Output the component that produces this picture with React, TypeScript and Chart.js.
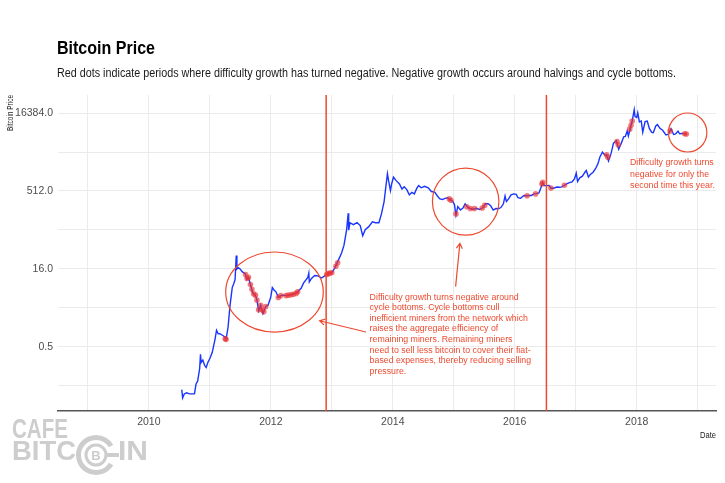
import React, { useEffect, useRef } from "react";
import { Chart, registerables } from "chart.js";
Chart.register(...registerables);

// ---------- data ----------
const priceDates = [
  "2010-07-17","2010-07-22","2010-08-01","2010-08-15","2010-09-01","2010-09-15","2010-10-01","2010-10-10","2010-10-20","2010-11-01","2010-11-06","2010-11-10","2010-11-20","2010-12-01","2010-12-10","2010-12-20",
  "2011-01-01","2011-01-15","2011-02-01","2011-02-10","2011-02-20","2011-03-01","2011-03-15","2011-04-01","2011-04-08","2011-04-20","2011-05-01","2011-05-15","2011-05-25","2011-06-01","2011-06-08","2011-06-12","2011-06-20","2011-07-01","2011-07-15","2011-08-01","2011-08-10","2011-08-20","2011-09-01","2011-09-15","2011-10-01","2011-10-10","2011-10-20","2011-11-01","2011-11-15","2011-11-20","2011-12-01","2011-12-15","2011-12-31",
  "2012-01-10","2012-01-20","2012-02-01","2012-02-15","2012-03-01","2012-03-15","2012-04-01","2012-05-01","2012-06-01","2012-06-20","2012-07-01","2012-07-15","2012-08-10","2012-08-16","2012-08-19","2012-09-01","2012-09-20","2012-10-10","2012-11-01","2012-11-28","2012-12-15",
  "2013-01-01","2013-01-20","2013-02-10","2013-03-01","2013-03-15","2013-03-31","2013-04-09","2013-04-12","2013-04-20","2013-05-10","2013-06-01","2013-06-20","2013-07-05","2013-07-20","2013-08-10","2013-09-01","2013-09-20","2013-10-10","2013-10-25","2013-11-10","2013-11-20","2013-11-30","2013-12-07","2013-12-18","2013-12-25",
  "2014-01-05","2014-01-20","2014-02-10","2014-02-25","2014-03-10","2014-03-25","2014-04-10","2014-04-25","2014-05-10","2014-05-25","2014-06-05","2014-06-20","2014-07-10","2014-08-01","2014-08-20","2014-09-10","2014-09-25","2014-10-10","2014-10-25","2014-11-10","2014-11-25","2014-12-10","2014-12-25",
  "2015-01-05","2015-01-14","2015-01-25","2015-02-10","2015-02-25","2015-03-10","2015-03-25","2015-04-10","2015-04-25","2015-05-15","2015-06-05","2015-06-25","2015-07-10","2015-07-25","2015-08-10","2015-08-25","2015-09-10","2015-09-25","2015-10-10","2015-10-25","2015-11-04","2015-11-12","2015-11-25","2015-12-10","2015-12-25",
  "2016-01-10","2016-01-20","2016-02-05","2016-02-25","2016-03-10","2016-03-25","2016-04-10","2016-04-25","2016-05-10","2016-05-25","2016-06-05","2016-06-17","2016-06-25","2016-07-09","2016-07-25","2016-08-05","2016-08-20","2016-09-10","2016-09-25","2016-10-10","2016-10-25","2016-11-10","2016-11-25","2016-12-10","2016-12-25",
  "2017-01-04","2017-01-12","2017-01-25","2017-02-10","2017-02-25","2017-03-05","2017-03-18","2017-03-31","2017-04-15","2017-05-01","2017-05-15","2017-05-25","2017-06-10","2017-06-25","2017-07-05","2017-07-16","2017-08-01","2017-08-15","2017-09-01","2017-09-15","2017-10-01","2017-10-15","2017-10-25","2017-11-05","2017-11-12","2017-11-25","2017-12-05","2017-12-17","2017-12-22",
  "2018-01-01","2018-01-07","2018-01-17","2018-01-28","2018-02-06","2018-02-20","2018-03-05","2018-03-18","2018-04-01","2018-04-10","2018-04-25","2018-05-05","2018-05-20","2018-06-05","2018-06-25","2018-07-10","2018-07-25","2018-08-10","2018-08-20","2018-09-05","2018-09-15","2018-09-25","2018-10-10","2018-10-20","2018-10-28",
];
const prices = [
  0.075,0.052,0.062,0.065,0.062,0.062,0.062,0.095,0.11,0.19,0.36,0.25,0.28,0.22,0.2,0.25,
  0.3,0.39,0.7,1.05,0.9,0.9,0.85,0.78,0.7,1.2,3.0,7.0,8.5,10,29,16,17,16,14,13,10,11,8,5.5,5,4,2.5,3.2,2.2,2.4,3,3.2,4.5,
  7,6.3,5.8,4.5,4.9,5.0,4.9,5.1,5.4,6.3,6.8,8.5,11,13.3,9,10.5,12,11.8,10.7,12.3,13.3,
  13.5,17,24,33,46,93,190,90,125,115,125,110,70,92,105,130,125,125,185,320,600,1100,800,520,700,
  950,820,700,560,620,550,430,480,450,580,650,590,630,590,500,480,410,360,350,370,380,350,325,
  280,175,255,220,240,290,250,235,225,238,225,245,290,290,265,220,235,232,245,290,410,320,360,430,450,
  440,380,370,420,415,420,420,450,455,470,580,750,650,650,655,580,580,610,605,615,660,710,740,770,890,
  1130,780,920,990,1180,1270,950,1080,1180,1420,1750,2300,2900,2500,2600,1950,2750,4300,4800,3300,4300,5700,5800,7400,5900,8700,11500,19000,14000,
  13500,16500,11000,11500,7000,11200,11500,8200,6900,6800,9200,9800,8300,7600,6200,6400,8200,6300,6400,7300,6500,6600,6550,6500,6400,
];

// periods with negative difficulty growth (red dots)
const negDates = [
  "2011-04-03","2011-04-08",
  "2011-08-03","2011-08-12","2011-08-20","2011-09-01","2011-09-10","2011-09-20","2011-10-01","2011-10-10","2011-10-20","2011-11-01","2011-11-10","2011-11-20","2011-12-01",
  "2012-02-15","2012-03-01","2012-04-01","2012-04-15","2012-05-01","2012-05-15","2012-06-01","2012-06-10",
  "2012-12-01","2012-12-10","2012-12-20","2013-01-01","2013-01-25","2013-02-05",
  "2014-12-05","2014-12-15","2015-01-14","2015-03-20","2015-04-10","2015-05-05","2015-06-20","2015-07-05",
  "2016-03-15","2016-05-05","2016-06-12","2016-06-17","2016-08-05","2016-10-25",
  "2017-07-05","2017-07-12","2017-09-05","2017-09-12","2017-11-20","2017-11-28","2017-12-05",
  "2018-07-20","2018-10-15","2018-10-25",
];
const negPrices = [
  0.72,0.7,
  12.5,10.5,11,8,6.5,5.3,5,4,2.6,3.2,2.6,2.4,3,
  4.5,4.9,4.9,5,5.1,5.2,5.4,5.8,
  12.5,13,13.3,13.5,18,21,
  360,340,185,255,235,235,240,270,
  415,450,700,750,585,660,
  2550,2300,4600,4000,8000,9500,11500,
  7400,6500,6450,
];

const halvingDates = ["2012-11-28", "2016-07-09"];
const yMajorTicks = [0.5, 16, 512, 16384];
const xGridYears = [2009, 2010, 2011, 2012, 2013, 2014, 2015, 2016, 2017, 2018, 2019];
const xLabelYears = [2010, 2012, 2014, 2016, 2018];

const titleText = "Bitcoin Price";
const subtitleText =
  "Red dots indicate periods where difficulty growth has turned negative. Negative growth occurs around halvings and cycle bottoms.";
const yAxisTitle = "Bitcoin Price";
const xAxisTitle = "Date";

const note1Lines = [
  "Difficulty growth turns negative around",
  "cycle bottoms. Cycle bottoms cull",
  "inefficient miners from the network which",
  "raises the aggregate efficiency of",
  "remaining miners. Remaining miners",
  "need to sell less bitcoin to cover their fiat-",
  "based expenses, thereby reducing selling",
  "pressure.",
];
const note2Lines = ["Difficulty growth turns", "negative for only the", "second time this year."];

// annotation geometry in data units (year, price)
const ellipses = [
  { x0: 2011.26, x1: 2012.86, y0: 34, y1: 0.97 },
  { x0: 2014.65, x1: 2015.74, y0: 1420, y1: 72 },
  { x0: 2018.52, x1: 2019.15, y0: 16384, y1: 2900 },
];
const arrows = [
  { fx: 2013.56, fy: 0.97, tx: 2012.8, ty: 1.6 },
  { fx: 2015.03, fy: 7.3, tx: 2015.1, ty: 50 },
];
const note1Pos = { x: 2013.62, y: 4.6 };
const note2Pos = { x: 2017.89, y: 1800 };

const X_MIN = 2008.51;
const X_MAX = 2019.3;
const Y_MIN = 0.029;
const Y_MAX = 36500;

const RED = "#ec4a2f";
const FONT = "'Liberation Sans', Arial, Helvetica, sans-serif";

function toYear(s: string): number {
  const [y, m, d] = s.split("-").map(Number);
  const start = Date.UTC(y, 0, 1);
  const end = Date.UTC(y + 1, 0, 1);
  return y + (Date.UTC(y, m - 1, d) - start) / (end - start);
}

function buildYTicks(): number[] {
  const out: number[] = [];
  const step = yMajorTicks[1] / yMajorTicks[0];
  out.push(yMajorTicks[0] / Math.sqrt(step));
  yMajorTicks.forEach((v, i) => {
    out.push(v);
    if (i < yMajorTicks.length - 1) out.push(Math.sqrt(v * yMajorTicks[i + 1]));
  });
  return out;
}

function fitText(ctx: CanvasRenderingContext2D, t: string, x: number, y: number, w: number) {
  const mw = ctx.measureText(t).width;
  ctx.save();
  ctx.translate(x, y);
  ctx.scale(Math.min(1, w / mw), 1);
  ctx.fillText(t, 0, 0);
  ctx.restore();
}

const decorPlugin = {
  id: "decor",
  beforeDraw(chart: any) {
    const { ctx, width, height } = chart;
    ctx.save();
    ctx.fillStyle = "#ffffff";
    ctx.fillRect(0, 0, width, height);
    ctx.restore();
  },
  afterDatasetsDraw(chart: any) {
    const { ctx, chartArea } = chart;
    const xs = chart.scales.x;
    const ys = chart.scales.y;
    ctx.save();
    ctx.strokeStyle = RED;
    ctx.lineWidth = 1.5;
    halvingDates.forEach((d) => {
      const px = xs.getPixelForValue(toYear(d));
      ctx.beginPath();
      ctx.moveTo(px, chartArea.top);
      ctx.lineTo(px, chartArea.bottom);
      ctx.stroke();
    });
    ctx.lineWidth = 1.2;
    ellipses.forEach((e) => {
      const a = xs.getPixelForValue(e.x0);
      const b = xs.getPixelForValue(e.x1);
      const c = ys.getPixelForValue(e.y0);
      const d = ys.getPixelForValue(e.y1);
      ctx.beginPath();
      ctx.ellipse((a + b) / 2, (c + d) / 2, Math.abs(b - a) / 2, Math.abs(d - c) / 2, 0, 0, Math.PI * 2);
      ctx.stroke();
    });
    arrows.forEach((ar) => {
      const fx = xs.getPixelForValue(ar.fx);
      const fy = ys.getPixelForValue(ar.fy);
      const tx = xs.getPixelForValue(ar.tx);
      const ty = ys.getPixelForValue(ar.ty);
      ctx.beginPath();
      ctx.moveTo(fx, fy);
      ctx.lineTo(tx, ty);
      const ang = Math.atan2(ty - fy, tx - fx);
      const L = 6;
      ctx.moveTo(tx - L * Math.cos(ang - Math.PI / 6), ty - L * Math.sin(ang - Math.PI / 6));
      ctx.lineTo(tx, ty);
      ctx.lineTo(tx - L * Math.cos(ang + Math.PI / 6), ty - L * Math.sin(ang + Math.PI / 6));
      ctx.stroke();
    });
    ctx.fillStyle = RED;
    ctx.font = `9.2px ${FONT}`;
    ctx.textBaseline = "middle";
    ctx.textAlign = "left";
    const n1x = xs.getPixelForValue(note1Pos.x);
    const n1y = ys.getPixelForValue(note1Pos.y);
    note1Lines.forEach((t, i) => {
      const w = ctx.measureText(t).width * 0.955;
      fitText(ctx, t, n1x, n1y + i * 10.6, w);
    });
    const n2x = xs.getPixelForValue(note2Pos.x);
    const n2y = ys.getPixelForValue(note2Pos.y);
    note2Lines.forEach((t, i) => {
      const w = ctx.measureText(t).width * 0.955;
      fitText(ctx, t, n2x, n2y + i * 11.4, w);
    });
    ctx.restore();
  },
  afterDraw(chart: any) {
    const { ctx, chartArea } = chart;
    ctx.save();
    ctx.textBaseline = "alphabetic";
    ctx.textAlign = "left";
    ctx.fillStyle = "#000000";
    ctx.font = `bold 17.5px ${FONT}`;
    fitText(ctx, titleText, 57, 54, 98);
    ctx.fillStyle = "#1a1a1a";
    ctx.font = `12px ${FONT}`;
    fitText(ctx, subtitleText, 57, 77, 619);

    // axis titles
    ctx.fillStyle = "#1a1a1a";
    ctx.font = `8.5px ${FONT}`;
    ctx.save();
    ctx.translate(13, chartArea.top);
    ctx.rotate(-Math.PI / 2);
    ctx.textAlign = "left";
    fitText(ctx, yAxisTitle, -ctx.measureText(yAxisTitle).width * 0.0 - 36, 0, 36);
    ctx.restore();
    ctx.textAlign = "left";
    fitText(ctx, xAxisTitle, chartArea.right - 16, 438, 16);

    // watermark
    const wm = "#cdcdcd";
    ctx.fillStyle = wm;
    ctx.strokeStyle = wm;
    ctx.textAlign = "left";
    ctx.font = `bold 28px ${FONT}`;
    const drawCondensed = (t: string, x: number, y: number, w: number) => {
      const mw = ctx.measureText(t).width;
      ctx.save();
      ctx.translate(x, y);
      ctx.scale(w / mw, 1);
      ctx.fillText(t, 0, 0);
      ctx.restore();
    };
    drawCondensed("CAFE", 12, 438, 56);
    drawCondensed("BITC", 12, 460, 64);
    drawCondensed("IN", 118, 460, 30);
    const cx = 96, cy = 455;
    ctx.lineWidth = 5;
    ctx.beginPath();
    ctx.arc(cx, cy, 17.5, Math.PI * 0.17, Math.PI * 1.83);
    ctx.stroke();
    ctx.lineWidth = 3;
    ctx.beginPath();
    ctx.arc(cx, cy, 10, 0, Math.PI * 2);
    ctx.stroke();
    ctx.fillRect(cx + 10, cy - 2, 13, 4);
    ctx.font = `bold 13px ${FONT}`;
    ctx.textAlign = "center";
    ctx.textBaseline = "middle";
    ctx.fillText("B", cx, cy + 1);
    ctx.restore();
  },
};

export default function App() {
  const ref = useRef<HTMLCanvasElement | null>(null);
  useEffect(() => {
    if (!ref.current) return;
    const lineData = priceDates.map((d, i) => ({ x: toYear(d), y: prices[i] }));
    const negData = negDates.map((d, i) => ({ x: toYear(d), y: negPrices[i] }));
    const yTicks = buildYTicks();
    const chart = new Chart(ref.current, {
      type: "line",
      data: {
        datasets: [
          {
            label: "Negative difficulty growth",
            data: negData,
            showLine: false,
            pointRadius: 2.8,
            pointBackgroundColor: "rgba(236,50,50,0.65)",
            pointBorderWidth: 0,
            order: 0,
          },
          {
            label: "Bitcoin Price",
            data: lineData,
            borderColor: "#1a35ff",
            borderWidth: 1.4,
            pointRadius: 0,
            tension: 0,
            order: 1,
          },
        ],
      },
      options: {
        responsive: false,
        animation: false,
        events: [],
        layout: { padding: { top: 95, right: 9, left: 0, bottom: 0 } },
        plugins: { legend: { display: false }, tooltip: { enabled: false }, title: { display: false } },
        scales: {
          x: {
            type: "linear",
            min: X_MIN,
            max: X_MAX,
            afterBuildTicks: (s: any) => {
              s.ticks = xGridYears.map((v) => ({ value: v }));
            },
            afterFit: (s: any) => {
              s.height = 72;
            },
            ticks: {
              autoSkip: false,
              maxRotation: 0,
              padding: 5,
              color: "#4d4d4d",
              font: { family: FONT, size: 10.5 },
              callback: (v: any) => (xLabelYears.includes(Number(v)) ? String(v) : ""),
            },
            grid: { color: "#ebebeb", lineWidth: 1, drawTicks: false },
            border: { display: true, color: "#555555", width: 1.5 },
          },
          y: {
            type: "logarithmic",
            min: Y_MIN,
            max: Y_MAX,
            afterBuildTicks: (s: any) => {
              s.ticks = yTicks.map((v) => ({ value: v }));
            },
            afterFit: (s: any) => {
              s.width = 58;
            },
            ticks: {
              autoSkip: false,
              padding: 5,
              color: "#4d4d4d",
              font: { family: FONT, size: 10.5 },
              callback: (v: any) => {
                const n = Number(v);
                return yMajorTicks.some((m) => Math.abs(m - n) / m < 1e-6) ? n.toFixed(1) : "";
              },
            },
            grid: { color: "#ebebeb", lineWidth: 1, drawTicks: false },
            border: { display: false },
          },
        },
      },
      plugins: [decorPlugin],
    } as any);
    return () => chart.destroy();
  }, []);
  return (
    <div style={{ position: "fixed", left: 0, top: 0, width: 725, height: 483, background: "#fff" }}>
      <canvas ref={ref} width={725} height={483} style={{ display: "block" }} />
    </div>
  );
}
